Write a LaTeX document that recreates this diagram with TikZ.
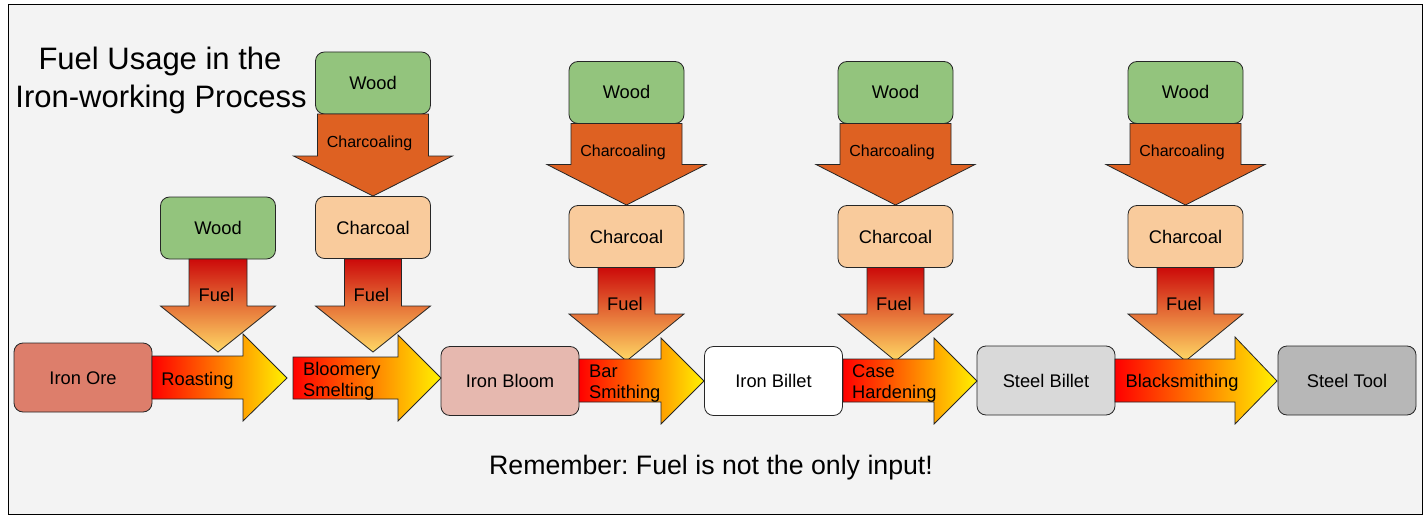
\documentclass[tikz,border=0pt]{standalone}
\usepackage{fontspec}
\setmainfont{Liberation Sans}
\frenchspacing
\definecolor{bg}{HTML}{F3F3F3}
\definecolor{woodc}{HTML}{93C47D}
\definecolor{charc}{HTML}{F9CB9C}
\definecolor{charcoaling}{RGB}{222,97,34}
\definecolor{oreC}{HTML}{DD7E6B}
\definecolor{bloomC}{HTML}{E6B8AF}
\definecolor{sbilletC}{HTML}{D9D9D9}
\definecolor{toolC}{HTML}{B7B7B7}
\definecolor{fuelTop}{RGB}{204,10,10}
\definecolor{fuelMid}{RGB}{224,101,47}
\definecolor{fuelBot}{RGB}{255,217,102}
\definecolor{hRed}{RGB}{255,0,0}
\definecolor{hMid}{RGB}{255,140,0}
\definecolor{hYel}{RGB}{255,242,0}
\tikzset{
  box/.style={draw=black!85, line width=0.8pt, rounded corners=9pt, inner sep=0pt,
    font=\fontsize{18.3}{21}\selectfont, text height=13pt, text depth=0pt},
  mainbox/.style={box, minimum width=138pt, minimum height=69pt},
  fuelbox/.style={box, minimum width=115pt, minimum height=62pt},
  harrow/.style={draw=black!85, line width=0.8pt, left color=hRed, middle color=hMid, right color=hYel},
  farrow/.style={draw=black!85, line width=0.8pt, top color=fuelTop, middle color=fuelMid, bottom color=fuelBot},
  carrow/.style={draw=black!85, line width=0.8pt, fill=charcoaling},
  lbl/.style={inner sep=0pt, font=\fontsize{18.3}{21}\selectfont, text height=13pt, text depth=0pt},
  clbl/.style={inner sep=0pt, font=\fontsize{16}{19}\selectfont, text height=11.5pt, text depth=0pt},
  mlbl/.style={inner sep=0pt, font=\fontsize{18.3}{21}\selectfont, align=left, anchor=west},
  ttl/.style={inner sep=0pt, anchor=base, font=\fontsize{31}{37}\selectfont},
}
\begin{document}
\begin{tikzpicture}[x=1pt,y=-1pt]
\useasboundingbox (0,0) rectangle (1428,519);
\draw[fill=bg, line width=1pt] (8,5) rectangle (1422,514);

% title
\node[ttl] (title1) at (160,70) {Fuel Usage in the};
\node[ttl] (title2) at (161,107.7) {Iron-working Process};

% group 1 (wood -> fuel)
\begin{scope}[shift={(218,0)}]
  \node[fuelbox, fill=woodc] (wood1) at (0,228) {Wood};
  \path[farrow] (-29,259) -- (29,259) -- (29,306) -- (57.5,306) -- (0,352) -- (-57.5,306) -- (-29,306) -- cycle;
  \node[lbl] (fuel1) at (-1.5,294.5) {Fuel};
\end{scope}

% group 2
\begin{scope}[shift={(373,0)}]
  \node[fuelbox, fill=woodc] (wood2) at (0,83) {Wood};
  \path[carrow] (-55.5,114) -- (55.5,114) -- (55.5,156) -- (79.5,156) -- (0,196) -- (-79.5,156) -- (-55.5,156) -- cycle;
  \node[clbl] (coal2) at (-3.5,141.7) {Charcoaling};
  \node[fuelbox, fill=charc] (charcoal2) at (0,227.5) {Charcoal};
  \path[farrow] (-28.5,259) -- (28.5,259) -- (28.5,306) -- (57.5,306) -- (0,352) -- (-57.5,306) -- (-28.5,306) -- cycle;
  \node[lbl] (fuel2) at (-1.5,294.5) {Fuel};
\end{scope}

% groups 3-5
\foreach \cx/\i in {626.5/3, 895.5/4, 1185.5/5}{
\begin{scope}[shift={(\cx,0)}]
  \node[fuelbox, fill=woodc] (wood\i) at (0,92.5) {Wood};
  \path[carrow] (-55.5,123.5) -- (55.5,123.5) -- (55.5,164.5) -- (79.5,164.5) -- (0,205) -- (-79.5,164.5) -- (-55.5,164.5) -- cycle;
  \node[clbl] (coal\i) at (-3.5,151) {Charcoaling};
  \node[fuelbox, fill=charc] (charcoal\i) at (0,236.5) {Charcoal};
  \path[farrow] (-28.5,267.5) -- (28.5,267.5) -- (28.5,314) -- (57.5,314) -- (0,361) -- (-57.5,314) -- (-28.5,314) -- cycle;
  \node[lbl] (fuel\i) at (-1.5,303.5) {Fuel};
\end{scope}
}

% main row boxes
\node[mainbox, fill=oreC] (ore) at (83,377.5) {Iron Ore};
\node[mainbox, fill=bloomC] (bloom) at (510,381) {Iron Bloom};
\node[mainbox, fill=white] (ibillet) at (773.5,381) {Iron Billet};
\node[mainbox, fill=sbilletC] (sbillet) at (1046,380.5) {Steel Billet};
\node[mainbox, fill=toolC] (tool) at (1347,380.5) {Steel Tool};

% horizontal arrows
\path[harrow] (152,356) -- (243,356) -- (243,334) -- (287,378) -- (243,421) -- (243,399) -- (152,399) -- cycle;
\node[lbl] (roast) at (197.5,378.7) {Roasting};
\path[harrow] (293,357) -- (398,357) -- (398,335) -- (441,378) -- (398,421) -- (398,399) -- (293,399) -- cycle;
\node[mlbl] (smelt) at (303,381) {Bloomery\\Smelting};
\path[harrow] (579,359) -- (661,359) -- (661,338) -- (704,381) -- (661,424) -- (661,402) -- (579,402) -- cycle;
\node[mlbl] (barsm) at (589,384) {Bar\\Smithing};
\path[harrow] (843,359) -- (934,359) -- (934,338) -- (977,381) -- (934,424) -- (934,402) -- (843,402) -- cycle;
\node[mlbl] (caseh) at (852,384) {Case\\Hardening};
\path[harrow] (1115,359) -- (1235,359) -- (1235,337) -- (1277,381) -- (1235,424) -- (1235,402) -- (1115,402) -- cycle;
\node[lbl] (blacks) at (1182,381) {Blacksmithing};

% note
\node[inner sep=0pt, anchor=base, font=\fontsize{26.7}{31}\selectfont] (note) at (711,474) {Remember: Fuel is not the only input!};
\end{tikzpicture}
\end{document}
